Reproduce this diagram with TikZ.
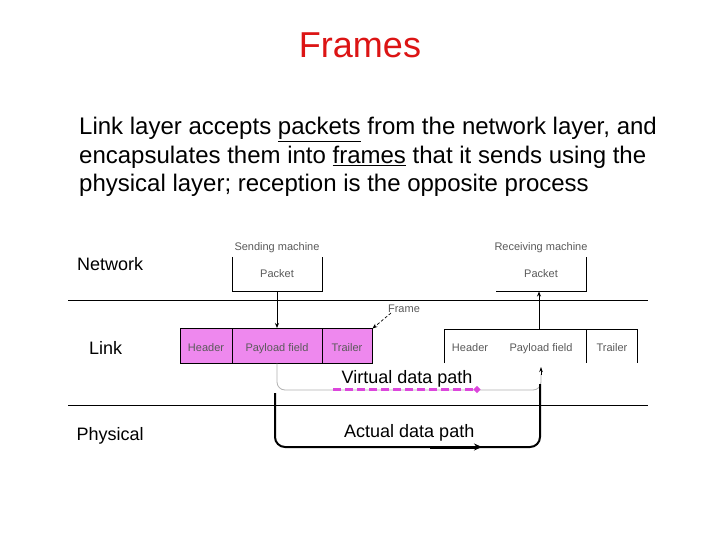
\documentclass[tikz,border=0pt]{standalone}
\usepackage{fontspec}
\setmainfont{Liberation Sans}
\usetikzlibrary{arrows.meta}
\definecolor{framepink}{RGB}{238,136,238}
\definecolor{pathpink}{RGB}{220,70,220}
\definecolor{smallgray}{RGB}{90,90,90}
\definecolor{titlered}{RGB}{220,20,20}
\tikzset{
  titletext/.style={font=\fontsize{36bp}{43bp}\selectfont, text=titlered, inner sep=0pt, anchor=base},
  bodytext/.style={font=\fontsize{24bp}{28.8bp}\selectfont, inner sep=0pt, anchor=base west},
  layertext/.style={font=\fontsize{18bp}{21bp}\selectfont, inner sep=0pt, anchor=base west},
  smalltext/.style={font=\fontsize{11bp}{13bp}\selectfont, text=smallgray, inner sep=0pt, anchor=base},
  layerline/.style={line width=0.9bp, black},
  thinbox/.style={line width=0.8bp, black},
  virtpath/.style={line width=0.8bp, gray!60, rounded corners=8bp},
  actpath/.style={line width=2bp, black, rounded corners=10bp},
}
\begin{document}
\begin{tikzpicture}[x=1bp,y=-1bp]
\useasboundingbox[fill=white] (0,0) rectangle (720,540);

% title and body
\node[titletext] (title) at (360,57.3) {Frames};
\node[bodytext] (l1) at (79,135) {Link layer accepts \underline{packets} from the network layer, and};
\node[bodytext] (l2) at (79,163.5) {encapsulates them into \underline{frames} that it sends using the};
\node[bodytext] (l3) at (79,192) {physical layer; reception is the opposite process};

% layer labels
\node[layertext] (network) at (77,271) {Network};
\node[layertext] (link) at (89,354) {Link};
\node[layertext] (physical) at (76.5,440) {Physical};

% layer separators
\coordinate (s1a) at (68,300);
\coordinate (s1b) at (648,300);
\coordinate (s2a) at (68,405.5);
\coordinate (s2b) at (648,405.5);
\draw[layerline] (s1a) -- (s1b);
\draw[layerline] (s2a) -- (s2b);

% sending machine
\node[smalltext] (sendlbl) at (277,251) {Sending machine};
\draw[thinbox] (232,257) -- (232,291) -- (322,291) -- (322,257);
\node[smalltext] (spacket) at (277,277.5) {Packet};
\coordinate (spbot) at (277,291);

% sending frame
\draw[thinbox, fill=framepink] (180,328) rectangle (372,363);
\draw[thinbox] (232,328) -- (232,363);
\draw[thinbox] (322,328) -- (322,363);
\node[smalltext] (sh) at (206,351) {Header};
\node[smalltext] (sp) at (277,351) {Payload field};
\node[smalltext] (st) at (347,351) {Trailer};
\coordinate (sftop) at (277,328);
\coordinate (sfcorner) at (372.5,328.5);
\draw[thinbox, -{Stealth[length=5bp,width=4bp]}] (spbot) -- (sftop);

% frame label
\node[smalltext] (framelbl) at (404,312) {Frame};
\draw[line width=0.7bp, densely dashed, -{Stealth[length=5bp,width=4bp]}] (391,313) -- (sfcorner);

% receiving machine
\node[smalltext] (recvlbl) at (541,251) {Receiving machine};
\draw[thinbox] (496,291) -- (586,291) -- (586,257);
\node[smalltext] (rpacket) at (541,277.5) {Packet};
\coordinate (rpbot) at (539,291.5);

% receiving frame
\draw[thinbox] (444,363) -- (444,329) -- (637,329) -- (637,363);
\draw[thinbox] (586,329) -- (586,363);
\node[smalltext] (rh) at (470,351) {Header};
\node[smalltext] (rp) at (541,351) {Payload field};
\node[smalltext] (rt) at (612,351) {Trailer};
\coordinate (rftop) at (539,329);
\draw[thinbox, -{Stealth[length=5bp,width=4bp]}] (rftop) -- (rpbot);

% virtual data path
\coordinate (v1) at (277,363.5);
\coordinate (v2) at (541,367);
\draw[virtpath] (v1) -- (277,390) -- (541,390) -- (541,374);
\draw[black, line width=0.8bp, -{Stealth[length=5bp,width=3.5bp]}] (541,375) -- (v2);
\node[layertext] (vlabel) at (341.5,383.3) {Virtual data path};
\coordinate (pd1) at (333,389.5);
\coordinate (pd2) at (480,389.5);
\draw[pathpink, line width=2.8bp, dash pattern=on 8bp off 4bp, -{Circle[length=6bp,width=6bp]}] (pd1) -- (pd2);

% actual data path
\coordinate (a1) at (275,393);
\coordinate (a2) at (540,384);
\draw[actpath] (a1) -- (275,447) -- (540,447) -- (a2);
\coordinate (ab1) at (430,447);
\coordinate (ab2) at (482,447);
\draw[black, line width=3bp, -{Stealth[length=8bp,width=7bp]}] (ab1) -- (ab2);
\node[layertext] (alabel) at (344,437.7) {Actual data path};
\end{tikzpicture}
\end{document}
